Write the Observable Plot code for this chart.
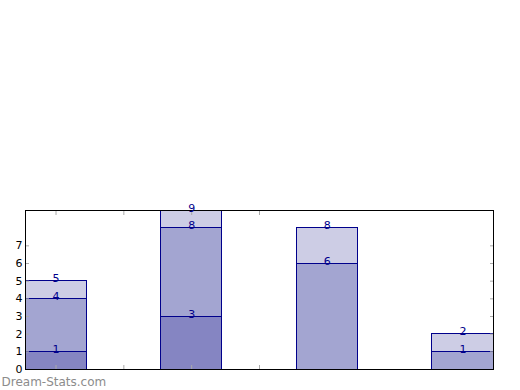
<!DOCTYPE html>
<html><head><meta charset="utf-8">
<script src="https://cdn.jsdelivr.net/npm/d3@7"></script>
<script src="https://cdn.jsdelivr.net/npm/@observablehq/plot@0.6"></script>
<style>body{margin:0;background:#fff}</style>
</head><body><div id="chart"></div>
<script>
const groups = [0, 1, 2, 3];
const seriesNames = ["s1", "s2", "s3"];
const series1 = [1, 3, 0, 0];
const series2 = [3, 5, 6, 1];
const series3 = [1, 1, 2, 1];
const seriesColors = ["#8585c2", "#a3a5d1", "#cdcde5"];
const yTicks = [0, 1, 2, 3, 4, 5, 6, 7];
const xTicks = [0, 0.5, 1, 1.5];
const barHalf = 0.225;

const allSeries = [series1, series2, series3];
const rows = [];
groups.forEach((g, i) => {
  let acc = 0;
  allSeries.forEach((s, k) => {
    const v = s[i];
    rows.push({g, series: seriesNames[k], v, y1: acc, y2: acc + v});
    acc += v;
  });
});
const labelled = rows.filter(d => d.v > 0);

const plot = Plot.plot({
  width: 520, height: 390,
  marginLeft: 25, marginRight: 27, marginTop: 210, marginBottom: 21,
  style: {fontFamily: "DejaVu Sans", fontSize: "11px", background: "#fff", overflow: "visible"},
  x: {type: "linear", domain: [groups[0] - barHalf, groups[groups.length - 1] + barHalf], axis: null, label: null},
  y: {domain: [0, 9], axis: null, label: null},
  color: {domain: seriesNames, range: seriesColors},
  marks: [
    Plot.rect(labelled, {x1: d => d.g - barHalf, x2: d => d.g + barHalf, y1: "y1", y2: "y2", fill: "series", stroke: "#00008b", strokeWidth: 1, shapeRendering: "crispEdges"}),
    Plot.axisY(yTicks, {anchor: "left", tickSize: 0, tickPadding: 3, fill: "#000", fontSize: 11, label: null}),
    Plot.axisY(yTicks, {anchor: "left", tickSize: -4, text: null, stroke: "#aaa", label: null}),
    Plot.axisY(yTicks, {anchor: "right", tickSize: -4, text: null, stroke: "#aaa", label: null}),
    Plot.axisX(xTicks, {anchor: "bottom", tickSize: -4, text: null, stroke: "#aaa", label: null}),
    Plot.axisX(xTicks, {anchor: "top", tickSize: -4, text: null, stroke: "#aaa", label: null}),
    Plot.frame({stroke: "#000", strokeWidth: 1, shapeRendering: "crispEdges"}),
    Plot.text(labelled, {x: "g", y: "y2", text: d => String(d.y2), fill: "#00008b", fontSize: 11, lineAnchor: "middle", dy: -2.5}),
    Plot.text(["Dream-Stats.com"], {frameAnchor: "bottom-left", dx: -24, dy: 16, textAnchor: "start", lineAnchor: "bottom", fill: "#8c8c8c", fontSize: 12})
  ]
});
document.getElementById("chart").appendChild(plot);
</script>
</body></html>
